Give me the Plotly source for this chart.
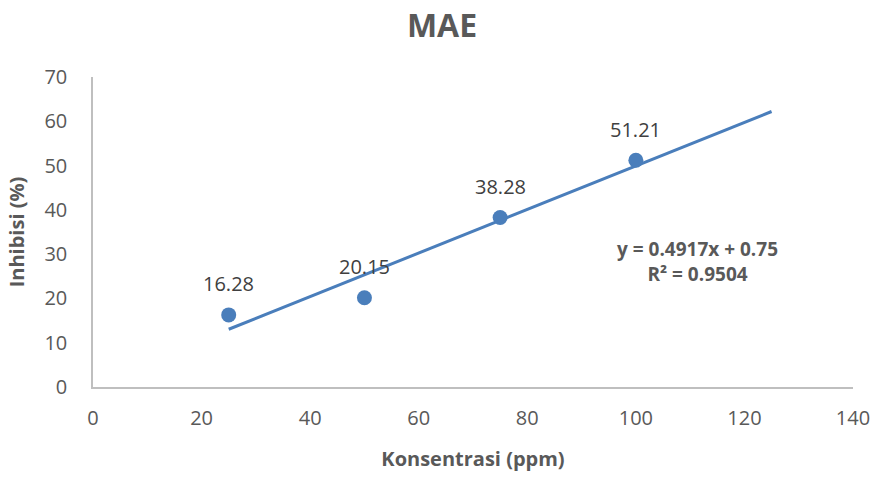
import plotly.graph_objects as go

konsentrasi = [25, 50, 75, 100]
inhibisi = [16.28, 20.15, 38.28, 51.21]
labels = ["16.28", "20.15", "38.28", "51.21"]
slope = 0.4917
intercept = 0.75
trend_x = [25, 125]
trend_y = [slope * x + intercept for x in trend_x]

blue = "#4a7ebb"
gray = "#595959"
font = "Open Sans"

fig = go.Figure()
fig.add_trace(go.Scatter(x=trend_x, y=trend_y, mode="lines",
                         line=dict(color=blue, width=3), hoverinfo="skip"))
fig.add_trace(go.Scatter(x=konsentrasi, y=inhibisi, mode="markers",
                         marker=dict(color=blue, size=15)))

for x, y, t in zip(konsentrasi, inhibisi, labels):
    fig.add_annotation(x=x, y=y, text=t, showarrow=False, yshift=31,
                       font=dict(family=font, size=20, color="#404040"))

fig.add_annotation(x=111.4, y=28.4, text="<b>y = 0.4917x + 0.75<br>R² = 0.9504</b>",
                   showarrow=False, align="center",
                   font=dict(family=font, size=19, color=gray))

fig.update_layout(
    width=884, height=478,
    margin=dict(l=93, r=31, t=77, b=91),
    plot_bgcolor="white", paper_bgcolor="white",
    showlegend=False,
    title=dict(text="<b>MAE</b>", x=0.5, xanchor="center", y=0.945, yanchor="middle",
               font=dict(family=font, size=32, color=gray)),
    xaxis=dict(range=[0, 140], dtick=20, showgrid=False, zeroline=False,
               showline=True, linecolor="#bfbfbf", linewidth=1.5,
               ticks="", ticklabelstandoff=12,
               tickfont=dict(family=font, size=20, color=gray),
               title=dict(text="<b>Konsentrasi (ppm)</b>", standoff=22,
                          font=dict(family=font, size=20, color=gray))),
    yaxis=dict(range=[0, 70], dtick=10, showgrid=False, zeroline=False,
               showline=True, linecolor="#bfbfbf", linewidth=1.5,
               ticks="", ticklabelstandoff=20,
               tickfont=dict(family=font, size=20, color=gray),
               title=dict(text="<b>Inhibisi (%)</b>", standoff=14,
                          font=dict(family=font, size=20, color=gray))),
)

fig.write_html("out.html")
